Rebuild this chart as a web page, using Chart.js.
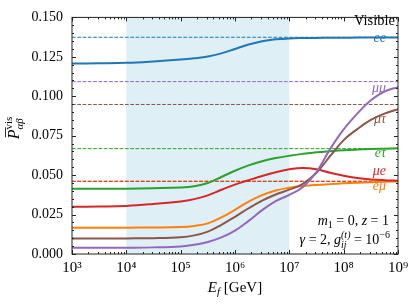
<!DOCTYPE html>
<html>
<head>
<meta charset="utf-8">
<script src="https://cdn.jsdelivr.net/npm/chart.js@4.4.0/dist/chart.umd.min.js"></script>
<style>
  body { margin: 0; background: #fff; }
  #wrap { width: 415px; height: 304px; }
</style>
</head>
<body>
<div id="wrap"><canvas id="chart"></canvas></div>
<script>
// final energies in GeV
const energies = [1e3, 3.16e3, 1e4, 3.16e4, 1e5, 1.78e5, 3.16e5, 5.62e5, 1e6, 1.78e6, 3.16e6,
                  5.62e6, 1e7, 1.78e7, 3.16e7, 5.62e7, 1e8, 1.78e8, 3.16e8, 5.62e8, 1e9];

const pEE   = [0.1207, 0.1209, 0.1212, 0.1221, 0.1233, 0.1241, 0.1252, 0.1272, 0.1300, 0.1328, 0.1349,
               0.1361, 0.1367, 0.1369, 0.1370, 0.1371, 0.1371, 0.1372, 0.1372, 0.1372, 0.1372];
const pMuMu = [0.0039, 0.0039, 0.0040, 0.0042, 0.0048, 0.0058, 0.0076, 0.0105, 0.0148, 0.0210, 0.0278,
               0.0335, 0.0375, 0.0425, 0.0520, 0.0665, 0.0790, 0.0890, 0.0975, 0.1030, 0.1058];
const pMuTau = [0.0098, 0.0098, 0.0099, 0.0100, 0.0106, 0.0118, 0.0142, 0.0185, 0.0236, 0.0290, 0.0338,
               0.0377, 0.0408, 0.0445, 0.0515, 0.0620, 0.0722, 0.0792, 0.0850, 0.0890, 0.0918];
const pETau = [0.0413, 0.0413, 0.0414, 0.0417, 0.0422, 0.0430, 0.0450, 0.0488, 0.0528, 0.0562, 0.0588,
               0.0608, 0.0623, 0.0635, 0.0645, 0.0652, 0.0658, 0.0662, 0.0665, 0.0668, 0.0670];
const pMuE  = [0.0299, 0.0301, 0.0305, 0.0317, 0.0333, 0.0348, 0.0372, 0.0407, 0.0440, 0.0468, 0.0495,
               0.0518, 0.0537, 0.0546, 0.0537, 0.0515, 0.0496, 0.0482, 0.0473, 0.0468, 0.0465];
const pEMu  = [0.0166, 0.0166, 0.0167, 0.0168, 0.0171, 0.0178, 0.0194, 0.0232, 0.0280, 0.0332, 0.0373,
               0.0403, 0.0420, 0.0431, 0.0438, 0.0443, 0.0448, 0.0452, 0.0455, 0.0458, 0.0460];

// high energy limits (dashed)
const channels = ['ee', 'μμ', 'μτ', 'eτ', 'μe', 'eμ'];
const limits   = [0.1374, 0.1093, 0.0948, 0.0668, 0.0461, 0.0461];
const colors   = ['#1f77b4', '#9467bd', '#8c564b', '#2ca02c', '#d62728', '#ff7f0e'];
const series   = [pEE, pMuMu, pMuTau, pETau, pMuE, pEMu];

const xTicks = [1e3, 1e4, 1e5, 1e6, 1e7, 1e8, 1e9];
const xTickLabels = ['10³', '10⁴', '10⁵', '10⁶', '10⁷', '10⁸', '10⁹'];
const yTicks = [0, 0.025, 0.05, 0.075, 0.1, 0.125, 0.15];
const shadeRange = [1e4, 1e7];

const FONT = 'Liberation Serif';
function font(size, italic) {
    return (italic ? 'italic ' : '') + size + 'px "' + FONT + '"';
}

// runs: {t, size, it, dy, keep}; keep = next run is stacked at the same x
function layoutRuns(ctx, runs) {
    let x = 0, stackX = null, stackW = 0;
    const out = [];
    runs.forEach(r => {
        ctx.font = font(r.size || 14, r.it);
        const w = ctx.measureText(r.t).width;
        const px = stackX !== null ? stackX : x;
        out.push({ r: r, x: px });
        if (r.keep) {
            stackX = px; stackW = w;
        } else if (stackX !== null) {
            x = stackX + Math.max(w, stackW); stackX = null;
        } else {
            x += w;
        }
    });
    return { items: out, width: x };
}

function drawRuns(ctx, runs, x, y, align, color) {
    const l = layoutRuns(ctx, runs);
    let x0 = x;
    if (align === 'right') x0 = x - l.width;
    if (align === 'center') x0 = x - l.width / 2;
    ctx.fillStyle = color || '#000';
    ctx.textBaseline = 'alphabetic';
    ctx.textAlign = 'left';
    l.items.forEach(it => {
        ctx.font = font(it.r.size || 14, it.r.it);
        ctx.fillText(it.r.t, x0 + it.x, y + (it.r.dy || 0));
    });
    return x0;
}

const decor = {
    id: 'decor',
    beforeDatasetsDraw(chart) {
        const ctx = chart.ctx, ca = chart.chartArea, xs = chart.scales.x;
        const a = xs.getPixelForValue(shadeRange[0]), b = xs.getPixelForValue(shadeRange[1]);
        ctx.save();
        ctx.fillStyle = 'rgba(173,216,230,0.4)';
        ctx.fillRect(a, ca.top, b - a, ca.bottom - ca.top);
        ctx.restore();
    },
    afterDatasetsDraw(chart) {
        const ctx = chart.ctx, ca = chart.chartArea, xs = chart.scales.x, ys = chart.scales.y;
        ctx.save();
        ctx.strokeStyle = '#222';
        ctx.lineWidth = 1;
        ctx.strokeRect(ca.left, ca.top, ca.right - ca.left, ca.bottom - ca.top);

        // inward ticks on all four sides
        ctx.beginPath();
        const tickX = (v, len) => {
            const p = Math.round(xs.getPixelForValue(v)) + 0.5;
            ctx.moveTo(p, ca.bottom); ctx.lineTo(p, ca.bottom - len);
            ctx.moveTo(p, ca.top); ctx.lineTo(p, ca.top + len);
        };
        const tickY = (v, len) => {
            const p = Math.round(ys.getPixelForValue(v)) + 0.5;
            ctx.moveTo(ca.left, p); ctx.lineTo(ca.left + len, p);
            ctx.moveTo(ca.right, p); ctx.lineTo(ca.right - len, p);
        };
        xTicks.forEach(v => tickX(v, 4));
        for (let i = 0; i < xTicks.length - 1; i++) {
            for (let m = 2; m < 10; m++) tickX(xTicks[i] * m, 2);
        }
        yTicks.forEach(v => tickY(v, 4));
        for (let i = 0; i < yTicks.length - 1; i++) {
            for (let k = 1; k < 5; k++) tickY(yTicks[i] + k * 0.005, 2);
        }
        ctx.stroke();

        // curve labels
        const labelY = [42, 92, 123, 157, 175, 190];
        channels.forEach((c, i) => {
            drawRuns(ctx, [{ t: c, size: 14, it: true }], 386, labelY[i], 'right', colors[i]);
        });
        drawRuns(ctx, [{ t: 'Visible', size: 14.5 }], 395, 25, 'right');

        drawRuns(ctx, [
            { t: 'm', it: true }, { t: '1', size: 10, dy: 3 }, { t: ' = 0, ' },
            { t: 'z', it: true }, { t: ' = 1' }
        ], 389, 225, 'right');
        drawRuns(ctx, [
            { t: 'γ', it: true }, { t: ' = 2, ' }, { t: 'g', it: true },
            { t: '(t)', size: 10, it: true, dy: -6, keep: true }, { t: 'ij', size: 10, it: true, dy: 4 },
            { t: ' = 10' }, { t: '−6', size: 10, dy: -6 }
        ], 390, 244, 'right');

        // axis titles
        drawRuns(ctx, [{ t: 'E', size: 15, it: true }, { t: 'f', size: 11, it: true, dy: 3 },
                       { t: ' [GeV]', size: 15 }], (ca.left + ca.right) / 2, 292, 'center');

        ctx.translate(19, 128);
        ctx.rotate(-Math.PI / 2);
        const x0 = drawRuns(ctx, [{ t: 'P', size: 16, it: true },
                                  { t: 'vis', size: 11, dy: -7, keep: true },
                                  { t: 'αβ', size: 11, it: true, dy: 4 }], 0, 0, 'center');
        ctx.beginPath();
        ctx.lineWidth = 0.8;
        ctx.strokeStyle = '#000';
        ctx.moveTo(x0 + 2, -13.5); ctx.lineTo(x0 + 12, -13.5);
        ctx.stroke();
        ctx.restore();
    }
};

const datasets = [];
series.forEach((s, i) => {
    datasets.push({
        data: energies.map((e, j) => ({ x: e, y: s[j] })),
        borderColor: colors[i],
        borderWidth: 2,
        pointRadius: 0,
        tension: 0.4,
        order: 1
    });
});
limits.forEach((v, i) => {
    datasets.push({
        data: [{ x: energies[0], y: v }, { x: energies[energies.length - 1], y: v }],
        borderColor: colors[i],
        borderWidth: 1,
        borderDash: [3.7, 1.6],
        pointRadius: 0,
        order: 2
    });
});

new Chart(document.getElementById('chart'), {
    type: 'line',
    data: { datasets: datasets },
    options: {
        responsive: true,
        maintainAspectRatio: false,
        animation: false,
        layout: { padding: { top: 13, right: 17, left: 0, bottom: 0 } },
        plugins: { legend: { display: false }, tooltip: { enabled: false } },
        scales: {
            x: {
                type: 'logarithmic',
                min: 1e3,
                max: 1e9,
                afterBuildTicks: scale => { scale.ticks = xTicks.map(v => ({ value: v })); },
                afterFit: scale => { scale.height = 50; },
                grid: { display: false, drawTicks: false },
                border: { display: false },
                ticks: {
                    autoSkip: false,
                    maxRotation: 0,
                    padding: 5,
                    color: '#000',
                    font: { family: FONT, size: 15 },
                    callback: (v) => xTickLabels[xTicks.indexOf(v)]
                }
            },
            y: {
                min: 0,
                max: 0.15,
                afterBuildTicks: scale => { scale.ticks = yTicks.map(v => ({ value: v })); },
                afterFit: scale => { scale.width = 72; },
                grid: { display: false, drawTicks: false },
                border: { display: false },
                ticks: {
                    padding: 9,
                    color: '#000',
                    font: { family: FONT, size: 14 },
                    callback: v => v.toFixed(3)
                }
            }
        }
    },
    plugins: [decor]
});
</script>
</body>
</html>
